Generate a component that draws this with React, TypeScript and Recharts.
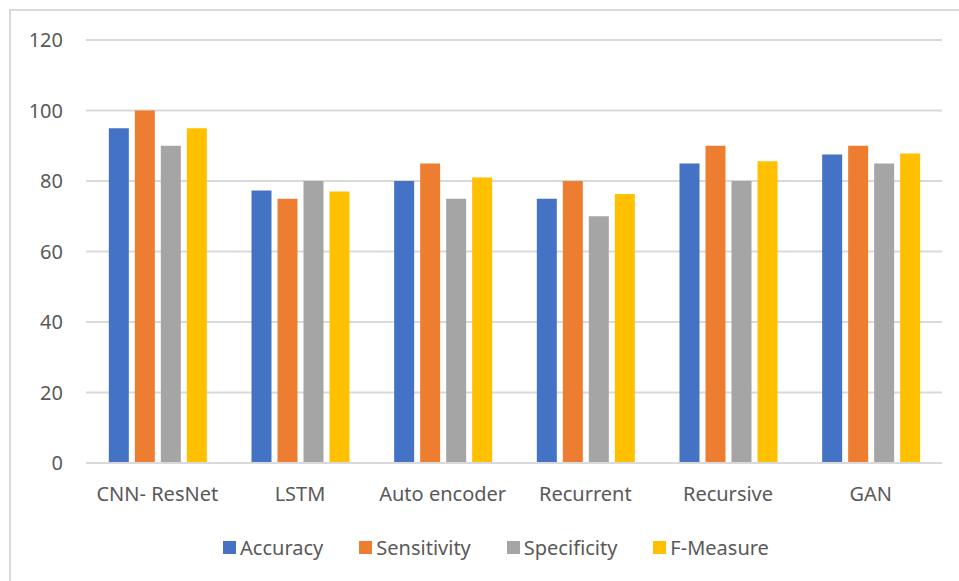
import { BarChart, Bar, XAxis, YAxis, CartesianGrid, Legend } from 'recharts'

const models = ['CNN- ResNet', 'LSTM', 'Auto encoder', 'Recurrent', 'Recursive', 'GAN']
const accuracy = [95, 77.3, 80, 75, 85, 87.5]
const sensitivity = [100, 75, 85, 80, 90, 90]
const specificity = [90, 80, 75, 70, 80, 85]
const fMeasure = [95, 77, 81, 76.3, 85.6, 87.8]
const yTicks = [0, 20, 40, 60, 80, 100, 120]

const series = [
  { key: 'Accuracy', color: '#4472C4' },
  { key: 'Sensitivity', color: '#ED7D31' },
  { key: 'Specificity', color: '#A5A5A5' },
  { key: 'F-Measure', color: '#FFC000' },
]

const data = models.map((m, i) => ({
  model: m,
  Accuracy: accuracy[i],
  Sensitivity: sensitivity[i],
  Specificity: specificity[i],
  'F-Measure': fMeasure[i],
}))

const font = '"Noto Sans", sans-serif'
const textColor = '#595959'

function LegendRow() {
  return (
    <div style={{ display: 'flex', justifyContent: 'center', gap: 36, paddingLeft: 50, fontFamily: font, fontSize: 20, color: textColor }}>
      {series.map((s) => (
        <div key={s.key} style={{ display: 'flex', alignItems: 'center' }}>
          <span style={{ width: 13, height: 13, background: s.color, marginRight: 4, display: 'inline-block' }} />
          <span>{s.key}</span>
        </div>
      ))}
    </div>
  )
}

export default function App() {
  return (
    <div style={{ position: 'absolute', left: 0, top: 0, width: 959, height: 581, background: '#fff', overflow: 'hidden' }}>
      <div
        style={{
          position: 'absolute', left: 9, top: 9, width: 960, height: 580,
          borderLeft: '2px solid #d9d9d9', borderTop: '2px solid #d9d9d9',
        }}
      />
      <div style={{ position: 'absolute', left: 0, top: 0 }}>
        <BarChart
          width={959}
          height={581}
          data={data}
          margin={{ top: 40, right: 17, left: 0, bottom: 7 }}
          barCategoryGap="16%"
          barGap={6}
        >
          <CartesianGrid vertical={false} stroke="#d9d9d9" strokeWidth={2} />
          <XAxis
            dataKey="model"
            height={71}
            tickLine={false}
            tickSize={0}
            tickMargin={24}
            axisLine={{ stroke: '#d9d9d9', strokeWidth: 2 }}
            tick={{ fontSize: 20, fill: textColor, fontFamily: font }}
            interval={0}
          />
          <YAxis
            width={86}
            domain={[0, 120]}
            ticks={yTicks}
            tickLine={false}
            tickSize={0}
            tickMargin={23}
            axisLine={false}
            tick={{ fontSize: 20, fill: textColor, fontFamily: font }}
          />
          <Legend verticalAlign="bottom" height={40} content={() => <LegendRow />} />
          {series.map((s) => (
            <Bar key={s.key} dataKey={s.key} fill={s.color} isAnimationActive={false} />
          ))}
        </BarChart>
      </div>
    </div>
  )
}
